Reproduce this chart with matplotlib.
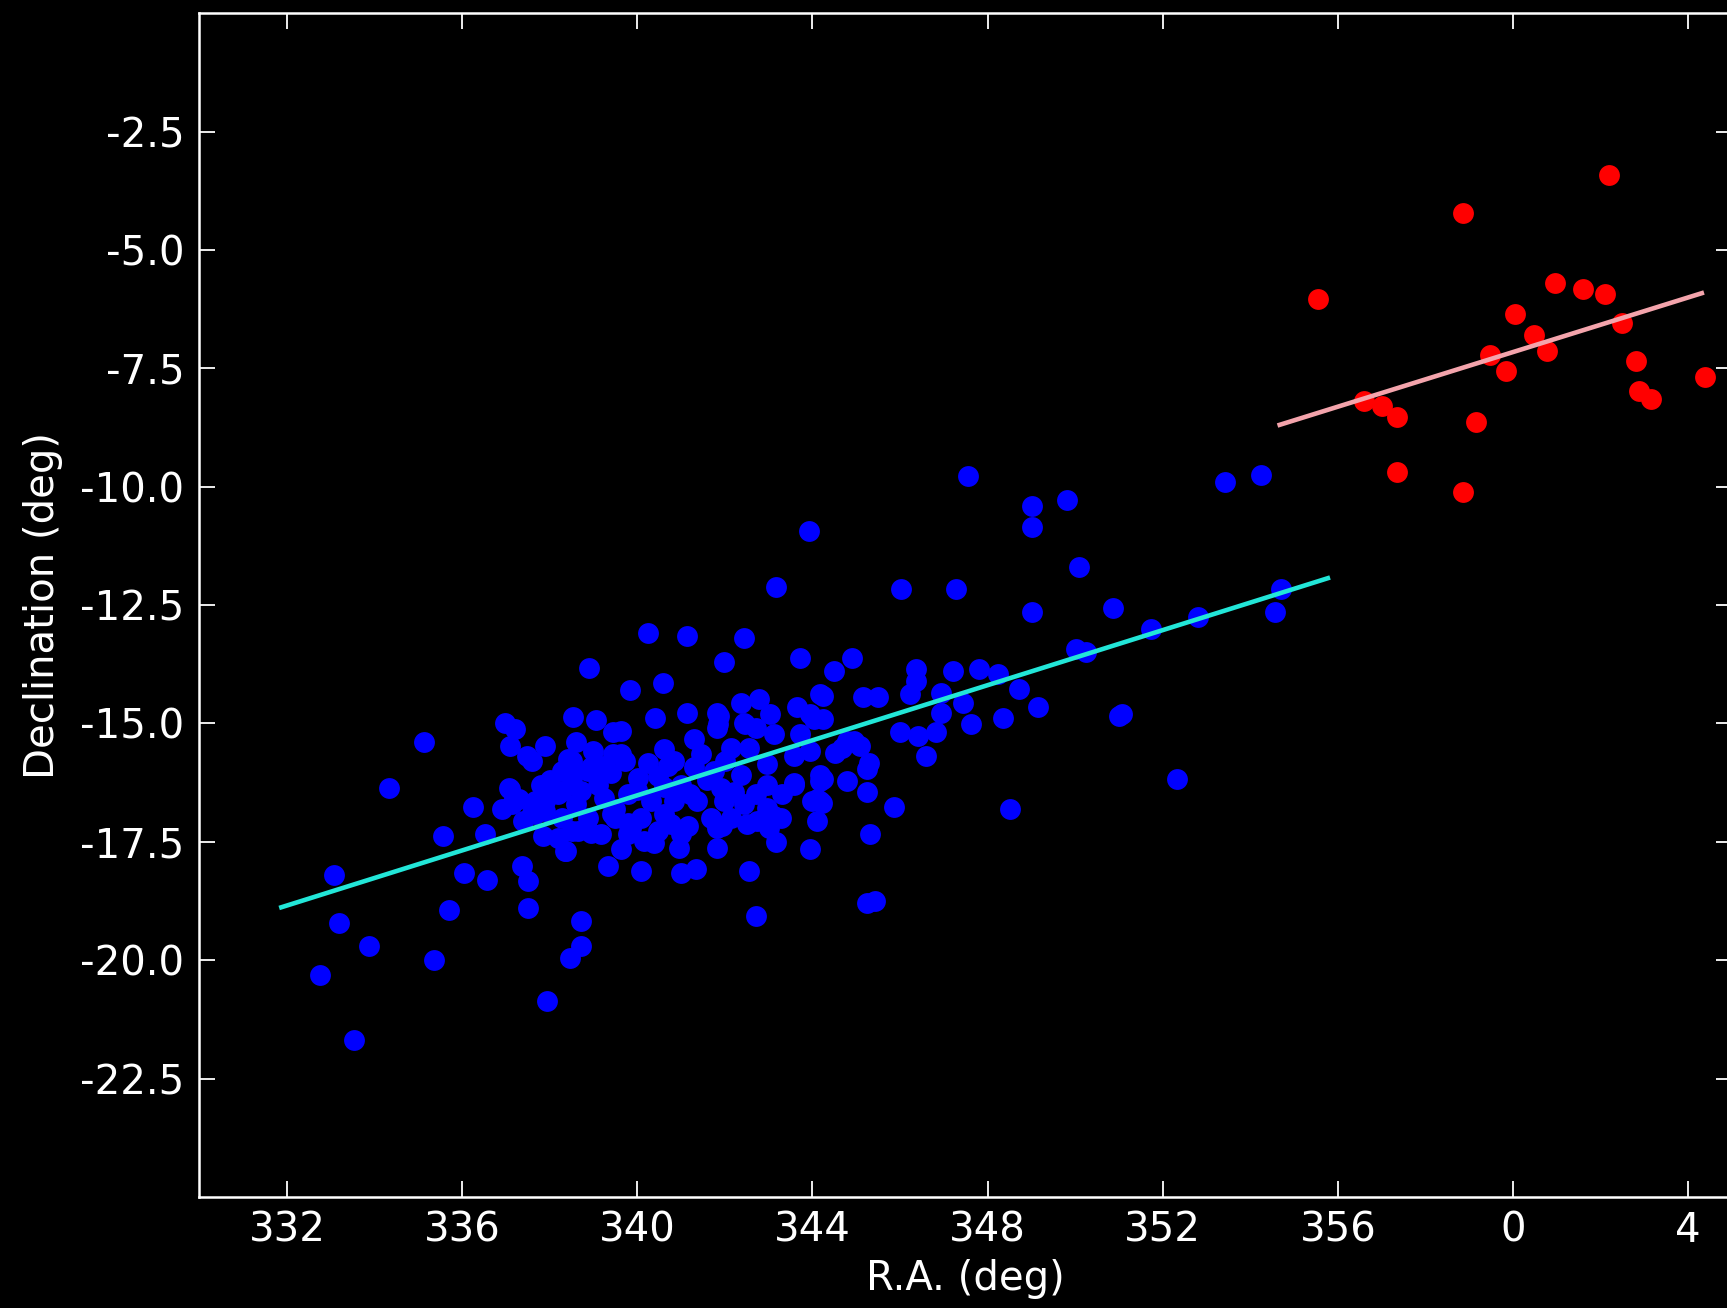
import matplotlib
matplotlib.use('Agg')
import matplotlib.pyplot as plt
import numpy as np

# blue group (R.A. deg, Dec deg)
blue_ra = [343.91, 343.17, 340.24, 341.13, 342.44, 338.90, 341.98, 343.72, 339.84, 340.58,
           335.12, 336.98, 337.21, 338.53, 339.05, 340.40, 341.13, 341.83, 342.36, 342.78,
           341.84, 342.47, 343.04, 343.12, 343.65, 343.95, 339.44, 341.30, 337.09, 337.89,
           337.47, 338.42, 338.99, 339.63, 340.62, 342.13, 343.72,
           347.55, 353.41, 354.24, 349.01, 349.01, 349.81, 350.09, 346.03, 347.27, 349.01,
           350.87, 351.74, 352.81, 354.71, 354.56, 350.01, 350.24, 344.90, 344.48, 346.37,
           347.21, 347.81, 348.23, 348.72, 344.25, 345.16, 345.50, 346.22, 346.37, 346.94,
           347.44, 346.94, 349.14, 348.34, 347.61, 351.00, 351.08, 344.25, 345.99, 346.41,
           346.83, 344.78, 345.09, 346.60, 345.28, 344.52,
           334.33, 333.08, 333.19, 333.87, 332.75, 333.53, 335.56, 335.69, 335.35, 336.24,
           336.03, 336.56, 336.53, 336.90, 337.09, 337.36, 337.50, 337.50, 337.93, 338.72,
           338.72, 338.46, 337.59, 337.85, 338.38, 339.33, 339.63, 340.09, 340.96, 341.00,
           341.34, 341.83, 342.55, 342.72, 343.16, 343.95, 341.15, 341.94, 343.12, 338.95,
           340.39, 339.78, 343.57, 343.99,
           352.32, 348.52, 345.87, 345.31, 345.24, 345.43, 344.25, 344.78, 345.24, 345.24,
           344.21,
           341.87, 341.83, 342.44, 342.70, 344.03, 344.18, 337.59, 338.50, 340.24, 340.84,
           341.45, 342.55, 342.97, 343.57, 343.95, 344.18, 344.10, 343.57, 342.97, 342.36,
           341.90, 341.75, 341.30, 341.00, 340.47, 340.01, 339.40, 338.87, 338.27, 337.81,
           337.66, 338.19, 338.72, 339.25, 339.78, 340.31, 340.84, 341.37, 341.98, 342.43,
           342.97, 343.27, 344.10, 342.74, 342.13, 341.83, 340.62, 340.09, 339.48, 338.87,
           338.27, 337.89, 338.50, 339.18, 339.78, 340.47, 341.00,
           338.46, 338.95, 339.44, 339.63, 339.71, 337.06, 337.13, 337.66, 337.89, 338.27,
           338.50, 338.19, 338.35, 338.65, 339.41, 339.86, 340.16, 340.77, 341.68, 342.51,
           344.18, 344.18, 344.67, 344.94,
           338.00, 338.60, 339.10, 339.50, 340.00, 340.60, 341.20, 341.60, 342.20, 342.70,
           343.30, 339.20, 340.70, 342.00, 337.30, 337.40, 338.60, 343.00]
blue_dec = [-10.94, -12.11, -13.10, -13.15, -13.19, -13.83, -13.71, -13.62, -14.30, -14.14,
            -15.40, -14.98, -15.12, -14.86, -14.93, -14.88, -14.77, -14.77, -14.56, -14.49,
            -15.02, -15.02, -14.81, -15.23, -14.66, -14.81, -15.19, -15.33, -15.48, -15.48,
            -15.69, -15.76, -15.58, -15.65, -15.55, -15.51, -15.23,
            -9.77, -9.91, -9.75, -10.40, -10.85, -10.28, -11.69, -12.15, -12.15, -12.64,
            -12.57, -13.01, -12.76, -12.16, -12.64, -13.43, -13.50, -13.61, -13.89, -13.85,
            -13.89, -13.85, -13.96, -14.28, -14.42, -14.45, -14.45, -14.38, -14.10, -14.35,
            -14.56, -14.77, -14.66, -14.88, -15.02, -14.84, -14.80, -14.91, -15.19, -15.26,
            -15.19, -15.37, -15.48, -15.69, -15.83, -15.62,
            -16.36, -18.21, -19.21, -19.70, -20.32, -21.68, -17.38, -18.94, -20.00, -16.76,
            -18.15, -18.30, -17.34, -16.81, -16.39, -18.01, -18.33, -18.89, -20.87, -19.18,
            -19.70, -19.95, -16.89, -17.38, -17.70, -18.01, -17.66, -18.12, -17.62, -18.15,
            -18.08, -17.62, -18.12, -19.07, -17.51, -17.66, -17.17, -17.17, -16.96, -17.31,
            -17.52, -17.10, -16.25, -16.64,
            -16.18, -16.81, -16.76, -17.34, -18.79, -18.75, -16.18, -16.22, -16.45, -15.97,
            -16.67,
            -14.84, -15.09, -14.98, -15.09, -14.91, -14.38, -15.79, -15.79, -15.83, -15.79,
            -15.65, -15.51, -15.86, -15.69, -15.58, -16.08, -16.60, -16.29, -16.29, -16.08,
            -16.36, -16.00, -15.93, -16.29, -16.11, -16.15, -16.04, -16.00, -16.00, -16.29,
            -16.64, -16.50, -16.43, -16.57, -16.50, -16.64, -16.64, -16.64, -16.64, -16.71,
            -16.78, -16.99, -17.06, -17.06, -16.99, -17.20, -16.92, -16.99, -16.99, -16.99,
            -16.99, -16.85, -17.27, -17.34, -17.34, -17.27, -17.34,
            -15.86, -15.93, -15.65, -15.16, -15.79, -16.36, -16.71, -16.92, -16.64, -16.43,
            -16.15, -17.41, -17.69, -17.27, -16.92, -17.20, -17.48, -17.13, -16.99, -17.13,
            -16.22, -16.64, -15.51, -15.37,
            -16.20, -16.70, -16.30, -16.80, -16.40, -16.35, -16.50, -16.20, -16.45, -16.50,
            -16.50, -15.90, -15.90, -15.80, -16.60, -17.05, -15.40, -17.20]

# red group (R.A. past 360 kept continuous)
red_ra = [355.55, 358.85, 362.18, 360.95, 361.60, 362.10, 360.05, 360.48, 360.78, 359.48,
          359.83, 362.48, 362.80, 362.88, 363.15, 364.38, 356.60, 357.00, 357.35, 359.15,
          357.35, 358.85]
red_dec = [-6.03, -4.22, -3.41, -5.69, -5.83, -5.94, -6.36, -6.80, -7.13, -7.22,
           -7.55, -6.55, -7.34, -7.97, -8.15, -7.69, -8.20, -8.29, -8.53, -8.64,
           -9.69, -10.11]

# linear fits: slope, intercept and x span
blue_fit = [0.2908, -115.39]
blue_fit_x = [331.87, 355.77]
red_fit = [0.2884, -110.98]
red_fit_x = [354.67, 364.31]

xticks = [332, 336, 340, 344, 348, 352, 356, 360, 364]
xtick_labels = ['332', '336', '340', '344', '348', '352', '356', '0', '4']
yticks = [-2.5, -5.0, -7.5, -10.0, -12.5, -15.0, -17.5, -20.0, -22.5]

plt.rcParams['axes.unicode_minus'] = False
plt.rcParams['font.family'] = 'DejaVu Sans'

fig = plt.figure(figsize=(17.27, 13.08), dpi=100, facecolor='black')
ax = fig.add_axes([0.1155, 0.0849, 0.8874, 0.9050])
ax.set_facecolor('black')

ax.plot(blue_ra, blue_dec, 'o', color='#0000ff', ms=15, mew=0)
ax.plot(red_ra, red_dec, 'o', color='#ff0000', ms=15, mew=0)

bx = np.array(blue_fit_x)
ax.plot(bx, np.polyval(blue_fit, bx), color='#22e6d8', lw=3.3)
rx = np.array(red_fit_x)
ax.plot(rx, np.polyval(red_fit, rx), color='#f4a4ac', lw=3.3)

ax.set_xlim(330, 365)
ax.set_ylim(-25, 0)
ax.set_xticks(xticks)
ax.set_xticklabels(xtick_labels)
ax.set_yticks(yticks)
ax.set_yticklabels(['%.1f' % v for v in yticks])

for s in ax.spines.values():
    s.set_color('white')
    s.set_linewidth(1.8)
ax.tick_params(axis='both', which='major', direction='in', top=True, right=True,
               length=11.5, width=1.3, color='white', labelcolor='white', labelsize=29)
ax.tick_params(axis='x', pad=10)
ax.tick_params(axis='y', pad=11)

ax.set_xlabel('R.A. (deg)', color='white', fontsize=29, labelpad=6)
ax.set_ylabel('Declination (deg)', color='white', fontsize=29, labelpad=12)

fig.savefig('out.png', dpi=100, facecolor='black')
